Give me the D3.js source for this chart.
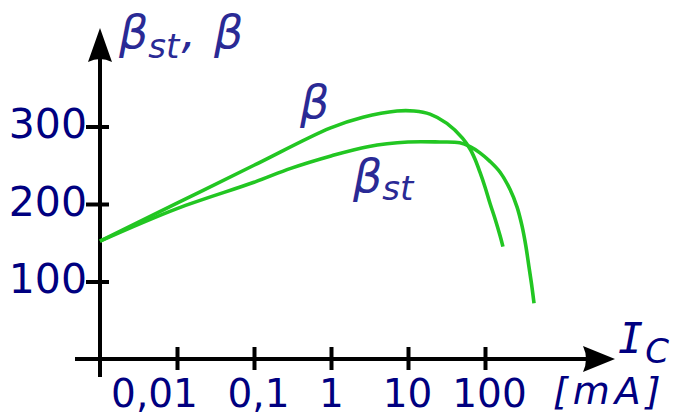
<!DOCTYPE html>
<html>
<head>
<meta charset="utf-8">
<script src="https://cdn.jsdelivr.net/npm/d3@7"></script>
<style>
  html, body { margin: 0; padding: 0; background: #fff; }
  svg { display: block; }
</style>
</head>
<body>
<svg id="chart" width="673" height="416"></svg>
<script>
// ---- data ----
const xTickValues = [0.01, 0.1, 1, 10, 100];
const xTickLabels = ["0,01", "0,1", "1", "10", "100"];
const yTickValues = [100, 200, 300];
const yTickLabels = ["100", "200", "300"];

// beta (small-signal): collector current [mA], value
const betaIc  = [0.001, 0.01, 0.1, 0.97, 2.6, 7.2, 12,  19.3, 32,  51,  64,  74,  86,  100, 116, 135, 157, 171];
const betaVal = [152,   201,  250, 298,  312, 320, 320, 316,  304, 285, 271, 258, 241, 222, 201, 181, 159, 145];

// beta_st (static)
const betaStIc  = [0.001, 0.01, 0.1, 0.3, 1,   3,   10,  26,  47,  64,  86,  116, 157, 211, 261, 302, 339, 371, 407, 433];
const betaStVal = [152,   194,  228, 246, 262, 274, 280, 280, 279, 274, 266, 255, 241, 219, 196, 172, 146, 120, 93,  72];

// ---- scales ----
const x = d3.scaleLog().domain([0.001, 100]).range([100, 485]);
const y = d3.scaleLinear().domain([0, 300]).range([359, 126.5]);

const svg = d3.select("#chart");
const navy = "#000080";
const labelBlue = "#2a2a95";
const green = "#22c622";
const tickFont = "'DejaVu Sans', sans-serif";

// ---- axes lines + arrows ----
const x0 = x(0.001), y0 = y(0);
svg.append("line").attr("x1", 75).attr("x2", 586).attr("y1", y0).attr("y2", y0)
   .attr("stroke", "#000").attr("stroke-width", 4);
svg.append("line").attr("x1", x0).attr("x2", x0).attr("y1", 377).attr("y2", 58)
   .attr("stroke", "#000").attr("stroke-width", 4);
svg.append("path")
   .attr("d", `M${615},${y0} L${583},${y0 - 13} Q${589},${y0} ${583},${y0 + 13} Z`)
   .attr("fill", "#000");
svg.append("path")
   .attr("d", `M${x0},${28} L${x0 - 12},${62} Q${x0},${56} ${x0 + 12},${62} Z`)
   .attr("fill", "#000");

// ---- x axis (ticks + labels) ----
const labelNudge = {"0,01": -23, "0,1": 4, "1": 0, "10": -1, "100": 4};
const gx = svg.append("g").attr("transform", `translate(0,${y0})`)
  .call(d3.axisBottom(x).tickValues(xTickValues)
        .tickFormat((d, i) => xTickLabels[i]).tickSize(11).tickPadding(0));
gx.select(".domain").remove();
gx.selectAll(".tick line").attr("y1", -12).attr("y2", 11)
  .attr("stroke", "#000").attr("stroke-width", 4);
gx.selectAll(".tick text")
  .attr("y", 48).attr("dy", 0)
  .attr("dx", function() { return labelNudge[d3.select(this).text()] || 0; })
  .attr("fill", navy).attr("font-family", tickFont).attr("font-size", 39);

// ---- y axis (ticks + labels) ----
const gy = svg.append("g").attr("transform", `translate(${x0},0)`)
  .call(d3.axisLeft(y).tickValues(yTickValues)
        .tickFormat((d, i) => yTickLabels[i]).tickSize(14).tickPadding(0));
gy.select(".domain").remove();
gy.selectAll(".tick line").attr("x1", -14).attr("x2", 9)
  .attr("stroke", "#000").attr("stroke-width", 4);
gy.selectAll(".tick text")
  .attr("x", -13).attr("dy", 11)
  .attr("fill", navy).attr("font-family", tickFont).attr("font-size", 41);

// ---- curves ----
const line = d3.line().x(d => x(d[0])).y(d => y(d[1])).curve(d3.curveCatmullRom.alpha(0.5));
svg.append("path").datum(d3.zip(betaStIc, betaStVal))
   .attr("d", line).attr("fill", "none").attr("stroke", green).attr("stroke-width", 3.6);
svg.append("path").datum(d3.zip(betaIc, betaVal))
   .attr("d", line).attr("fill", "none").attr("stroke", green).attr("stroke-width", 3.6);

// ---- labels ----
const italic = "'DejaVu Sans', sans-serif";
// y-axis title
const t = svg.append("text").attr("x", 119).attr("y", 48)
  .attr("font-family", italic).attr("font-style", "italic").attr("font-size", 46).attr("fill", labelBlue);
t.append("tspan").text("β");
t.append("tspan").attr("font-size", 34).attr("dy", 10).text("st");
t.append("tspan").attr("dy", -10).attr("dx", 2).text(",");
t.append("tspan").attr("dx", 18).text("β");

// curve label beta
svg.append("text").attr("x", 300).attr("y", 118)
  .attr("font-family", italic).attr("font-style", "italic").attr("font-size", 46).attr("fill", labelBlue)
  .text("β");
// curve label beta_st
const ts = svg.append("text").attr("x", 353).attr("y", 192)
  .attr("font-family", italic).attr("font-style", "italic").attr("font-size", 46).attr("fill", labelBlue);
ts.append("tspan").text("β");
ts.append("tspan").attr("font-size", 34).attr("dy", 8).text("st");

// x-axis title
const xt = svg.append("text").attr("x", 618).attr("y", 353)
  .attr("font-style", "italic").attr("fill", navy);
xt.append("tspan").attr("font-family", "'DejaVu Sans Mono', monospace").attr("font-size", 42).text("I");
xt.append("tspan").attr("font-family", italic).attr("font-size", 34).attr("dy", 10).attr("dx", 2).text("C");

svg.append("text").attr("x", 553).attr("y", 404)
  .attr("font-family", italic).attr("font-style", "italic").attr("font-size", 38)
  .attr("letter-spacing", 5).attr("fill", navy).text("[mA]");
</script>
</body>
</html>
